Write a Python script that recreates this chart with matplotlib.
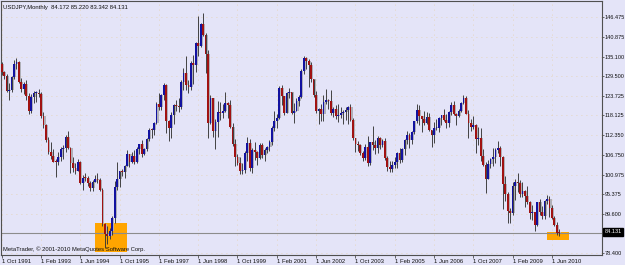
import numpy as np
import matplotlib
matplotlib.use("Agg")
import matplotlib.pyplot as plt
from matplotlib.patches import Rectangle
import matplotlib.transforms as mtransforms

# ---------------- data: USDJPY monthly, Oct 1991 .. Sep 2010 ----------------
first_open = 132.9
closes = [
    130.6, 129.6, 125.2,
    125.4, 129.3, 133.0, 133.5, 127.9, 125.7, 127.3, 123.6, 119.5, 123.3, 124.5, 124.7,
    124.4, 117.8, 115.4, 111.1, 107.4, 106.5, 104.7, 104.6, 106.0, 108.5, 108.8, 111.9,
    108.8, 104.3, 102.8, 102.0, 104.6, 98.5, 100.1, 99.9, 98.6, 97.0, 98.9, 99.6,
    99.5, 96.5, 86.6, 83.7, 83.2, 84.8, 88.4, 97.5, 99.7, 101.9, 101.8, 103.5,
    107.0, 104.7, 106.3, 104.7, 108.5, 109.8, 106.8, 108.4, 111.4, 114.0, 113.9, 115.9,
    121.5, 120.5, 124.0, 126.9, 116.5, 114.6, 118.3, 121.0, 120.7, 120.5, 127.8, 130.3,
    127.0, 126.3, 133.3, 132.6, 139.0, 138.3, 144.4, 141.3, 135.9, 116.0, 123.2, 113.6,
    116.3, 119.0, 118.9, 119.4, 121.6, 121.0, 114.7, 109.7, 106.1, 104.2, 102.1, 102.2,
    107.3, 110.1, 102.8, 108.1, 107.6, 105.9, 109.6, 106.7, 108.1, 108.9, 110.4, 114.4,
    116.4, 117.4, 126.1, 123.6, 118.9, 124.6, 124.8, 118.9, 119.5, 122.3, 123.5, 131.0,
    134.7, 133.8, 132.7, 128.5, 124.0, 119.5, 119.9, 118.4, 121.9, 122.5, 122.4, 118.7,
    119.9, 117.8, 118.1, 118.9, 119.2, 119.8, 120.5, 116.8, 111.5, 109.8, 109.6, 107.2,
    105.8, 109.1, 104.3, 110.4, 109.6, 108.8, 111.5, 109.5, 110.8, 105.8, 103.1, 102.6,
    103.7, 104.7, 107.2, 105.1, 108.4, 110.9, 112.5, 110.9, 113.4, 116.4, 119.8, 117.8,
    117.2, 115.8, 117.7, 113.8, 112.5, 114.4, 114.6, 117.4, 118.2, 116.9, 115.8, 119.0,
    121.0, 118.5, 117.9, 119.5, 121.7, 123.2, 118.6, 115.8, 114.8, 115.3, 111.2, 111.7,
    106.4, 103.8, 99.7, 104.0, 105.5, 106.2, 108.0, 108.8, 106.0, 98.4, 95.5, 90.6,
    89.9, 97.6, 98.9, 98.6, 95.3, 96.3, 94.7, 93.0, 89.8, 90.1, 86.4, 93.0,
    90.3, 88.9, 93.4, 94.0, 91.2, 88.4, 86.4, 84.172, 84.131,
]
highs = [
    133.5, 131.0, 130.0,
    127.5, 129.5, 134.1, 134.6, 133.8, 129.0, 127.8, 128.3, 124.5, 124.2, 125.3, 125.3,
    125.8, 124.8, 119.0, 115.6, 112.0, 110.5, 108.4, 105.5, 107.4, 108.9, 109.5, 112.5,
    113.6, 109.0, 106.0, 104.2, 105.6, 104.8, 101.0, 101.4, 100.7, 99.2, 99.3, 100.8,
    101.5, 100.0, 97.0, 87.0, 86.2, 85.6, 89.0, 99.2, 104.7, 102.0, 102.5, 103.9,
    108.0, 107.0, 107.4, 108.0, 108.9, 109.9, 111.0, 108.8, 111.6, 114.6, 114.5, 116.3,
    122.0, 124.6, 124.4, 127.5, 127.1, 116.8, 119.2, 121.4, 122.6, 123.0, 128.3, 131.7,
    135.2, 128.3, 133.7, 135.6, 139.2, 146.8, 144.9, 147.66, 142.0, 136.9, 124.0, 123.2,
    117.0, 122.2, 122.0, 121.3, 124.8, 122.0, 122.5, 116.0, 111.3, 107.0, 106.0, 104.3,
    107.7, 111.8, 111.4, 108.6, 110.4, 107.8, 110.0, 110.0, 108.6, 109.4, 111.0, 114.9,
    119.4, 118.6, 126.5, 126.8, 123.8, 124.9, 126.0, 124.8, 121.8, 123.0, 124.0, 131.5,
    135.2, 135.0, 134.4, 133.5, 128.6, 125.2, 120.3, 121.3, 124.0, 125.6, 122.9, 125.5,
    120.4, 121.1, 121.5, 120.5, 119.6, 120.4, 120.8, 121.5, 117.4, 111.7, 110.7, 109.8,
    107.8, 109.7, 112.2, 110.5, 114.9, 111.0, 112.1, 111.9, 111.3, 111.6, 106.3, 105.0,
    104.9, 106.1, 107.5, 108.8, 108.6, 111.2, 113.7, 113.0, 113.6, 116.5, 121.4, 121.0,
    117.8, 119.4, 119.0, 118.7, 113.8, 116.3, 117.1, 117.5, 118.3, 119.9, 118.5, 119.4,
    121.9, 122.2, 118.7, 120.1, 122.0, 124.1, 123.6, 119.8, 117.0, 117.9, 115.6, 114.7,
    114.6, 108.4, 104.5, 105.1, 105.7, 108.6, 108.6, 110.7, 109.2, 106.4, 100.5, 96.0,
    91.2, 98.8, 99.8, 101.4, 99.5, 98.9, 96.5, 97.8, 93.4, 92.3, 90.2, 93.1,
    93.8, 91.8, 93.7, 95.0, 94.9, 92.1, 89.1, 87.2, 85.22,
]
lows = [
    129.8, 128.5, 124.8,
    122.5, 124.9, 128.5, 131.5, 127.6, 125.0, 124.3, 122.5, 118.6, 118.8, 121.8, 121.9,
    123.3, 117.4, 114.5, 110.3, 107.0, 105.5, 104.5, 100.4, 103.9, 104.9, 105.5, 107.6,
    108.3, 101.5, 101.8, 101.2, 102.0, 98.2, 96.6, 99.0, 97.8, 96.1, 96.2, 98.8,
    98.5, 96.2, 86.0, 79.75, 81.0, 82.3, 83.5, 87.1, 96.5, 97.5, 100.5, 100.0,
    103.4, 103.1, 104.3, 104.0, 104.4, 106.9, 106.2, 106.6, 107.9, 110.6, 111.5, 112.3,
    115.7, 119.6, 119.7, 122.7, 112.9, 110.6, 111.5, 115.6, 119.3, 119.0, 120.1, 125.5,
    125.5, 124.7, 125.5, 127.2, 130.7, 135.3, 137.8, 141.0, 130.3, 111.6, 115.6, 112.0,
    108.3, 112.0, 116.7, 117.3, 119.0, 117.3, 114.5, 109.2, 103.6, 103.7, 101.3, 101.2,
    101.4, 104.9, 102.1, 101.4, 105.3, 103.9, 105.6, 105.7, 104.9, 107.2, 107.8, 109.6,
    113.6, 114.5, 117.0, 121.2, 118.2, 118.8, 123.1, 118.4, 115.8, 119.3, 120.8, 123.1,
    130.2, 131.5, 126.4, 127.9, 123.4, 118.8, 115.5, 116.6, 116.4, 121.4, 119.9, 118.3,
    117.7, 117.1, 116.2, 117.3, 115.7, 116.9, 115.5, 116.5, 110.9, 107.6, 107.7, 106.7,
    105.0, 105.2, 103.4, 103.8, 108.2, 106.9, 107.2, 108.5, 108.9, 105.3, 102.1, 101.8,
    101.7, 103.0, 103.0, 104.2, 104.6, 106.7, 109.9, 108.8, 109.7, 112.8, 115.8, 115.2,
    113.4, 115.2, 115.6, 113.6, 108.9, 110.1, 113.9, 113.4, 115.2, 116.4, 114.4, 114.8,
    118.3, 118.3, 115.2, 117.6, 119.2, 121.4, 118.4, 111.6, 113.6, 114.3, 107.2, 109.5,
    104.9, 103.6, 95.8, 99.6, 102.9, 103.5, 104.4, 107.3, 103.5, 90.9, 93.3, 87.1,
    87.1, 89.2, 93.6, 96.0, 94.4, 94.5, 91.7, 92.6, 88.2, 88.0, 84.8, 86.1,
    89.2, 88.1, 88.1, 92.4, 88.6, 88.2, 86.2, 83.6, 83.342,
]
# month index of each x tick (0 = Oct 1991) and its label
xtick_months = [0, 16, 32, 48, 64, 80, 96, 112, 128, 144, 160, 176, 192, 208, 224]
xtick_labels = ["1 Oct 1991", "1 Feb 1993", "1 Jun 1994", "1 Oct 1995", "1 Feb 1997",
                "1 Jun 1998", "1 Oct 1999", "1 Feb 2001", "1 Jun 2002", "1 Oct 2003",
                "1 Feb 2005", "1 Jun 2006", "1 Oct 2007", "1 Feb 2009", "1 Jun 2010"]
ytick_values = [146.475, 140.875, 135.100, 129.500, 123.725, 118.125, 112.350,
                106.750, 100.975, 95.375, 89.600, 78.400]
last_price = 84.131
title_text = "USDJPY,Monthly  84.172 85.220 83.342 84.131"
copyright_text = "MetaTrader, \u00a9 2001-2010 MetaQuotes Software Corp."
# highlight rectangles: (start month idx, end month idx, low price, high price)
highlight_boxes = [(38.0, 51.0, 78.55, 86.9), (222.0, 231.0, 82.05, 84.31)]

# ---------------- drawing ----------------
BG = "#E4E4F8"
FONT = ["Liberation Sans", "DejaVu Sans"]
FS = 4.2
FSY = 3.95

opens = [first_open] + closes[:-1]
o = np.array(opens); c = np.array(closes); h = np.array(highs); l = np.array(lows)
x = np.arange(len(c))

fig = plt.figure(figsize=(6.25, 2.65), dpi=100, facecolor=BG)
ax = fig.add_axes([1 / 625, 10 / 265, 601 / 625, 254 / 265])
ax.set_facecolor(BG)
ax.set_xlim(-0.285, 244.4)
ax.set_ylim(77.735, 151.19)

# grid (dotted, pale tan)
for yv in ytick_values:
    ax.axhline(yv, color="#E6CFA8", lw=0.6, ls=(0, (1, 5)), zorder=0)
for xv in xtick_months:
    ax.axvline(xv, color="#E6CFA8", lw=0.6, ls=(0, (1, 5)), zorder=0)

# highlight boxes
for (x0, x1, p0, p1) in highlight_boxes:
    ax.add_patch(Rectangle((x0, p0), x1 - x0, p1 - p0, facecolor="#FFA500",
                           edgecolor="none", zorder=1))

# current price line
ax.axhline(last_price, color="#8C8C8C", lw=0.8, zorder=2)

# candles
bot = np.minimum(o, c)
hgt = np.maximum(np.abs(c - o), 0.25)
bull = c >= o
ax.bar(x + 0.35, hgt, bottom=bot, width=1.0, color="#B0B0B8", linewidth=0, zorder=3)
ax.vlines(x, l, h, color="#363636", lw=0.65, zorder=4)
ax.bar(x, hgt, bottom=bot, width=0.7,
       color=np.where(bull, "#1212A0", "#A01212"), linewidth=0, zorder=5)

# axes frame
for side in ["left", "top", "right", "bottom"]:
    ax.spines[side].set_color("#505050")
    ax.spines[side].set_linewidth(0.8)

ax.yaxis.tick_right()
ax.set_yticks(ytick_values)
ax.set_yticklabels([f"{v:.3f}" for v in ytick_values])
ax.set_xticks(xtick_months)
ax.set_xticklabels(xtick_labels, ha="left")
ax.tick_params(axis="both", width=0.6, color="#505050", labelcolor="#101010")
ax.tick_params(axis="x", length=2, pad=1.2, labelsize=FS)
ax.tick_params(axis="y", length=1.6, pad=0.6, labelsize=FSY)
for t in ax.get_xticklabels() + ax.get_yticklabels():
    t.set_family(FONT)

# current price label box
trans = mtransforms.blended_transform_factory(ax.transAxes, ax.transData)
ax.text(1.004, last_price + 0.3, f"{last_price:.3f}", transform=trans, ha="left",
        va="center", fontsize=FSY, color="white", family=FONT,
        bbox=dict(boxstyle="square,pad=0.22", fc="black", ec="black"), zorder=10,
        clip_on=False)

# title & copyright
ax.text(0.0035, 0.976, title_text, transform=ax.transAxes, ha="left", va="center",
        fontsize=FS, color="#101010", family=FONT, zorder=10)
ax.text(0.0035, 0.024, copyright_text, transform=ax.transAxes, ha="left",
        va="center", fontsize=FS, color="#101010", family=FONT, zorder=10)

fig.savefig("out.png", dpi=100, facecolor=BG)
